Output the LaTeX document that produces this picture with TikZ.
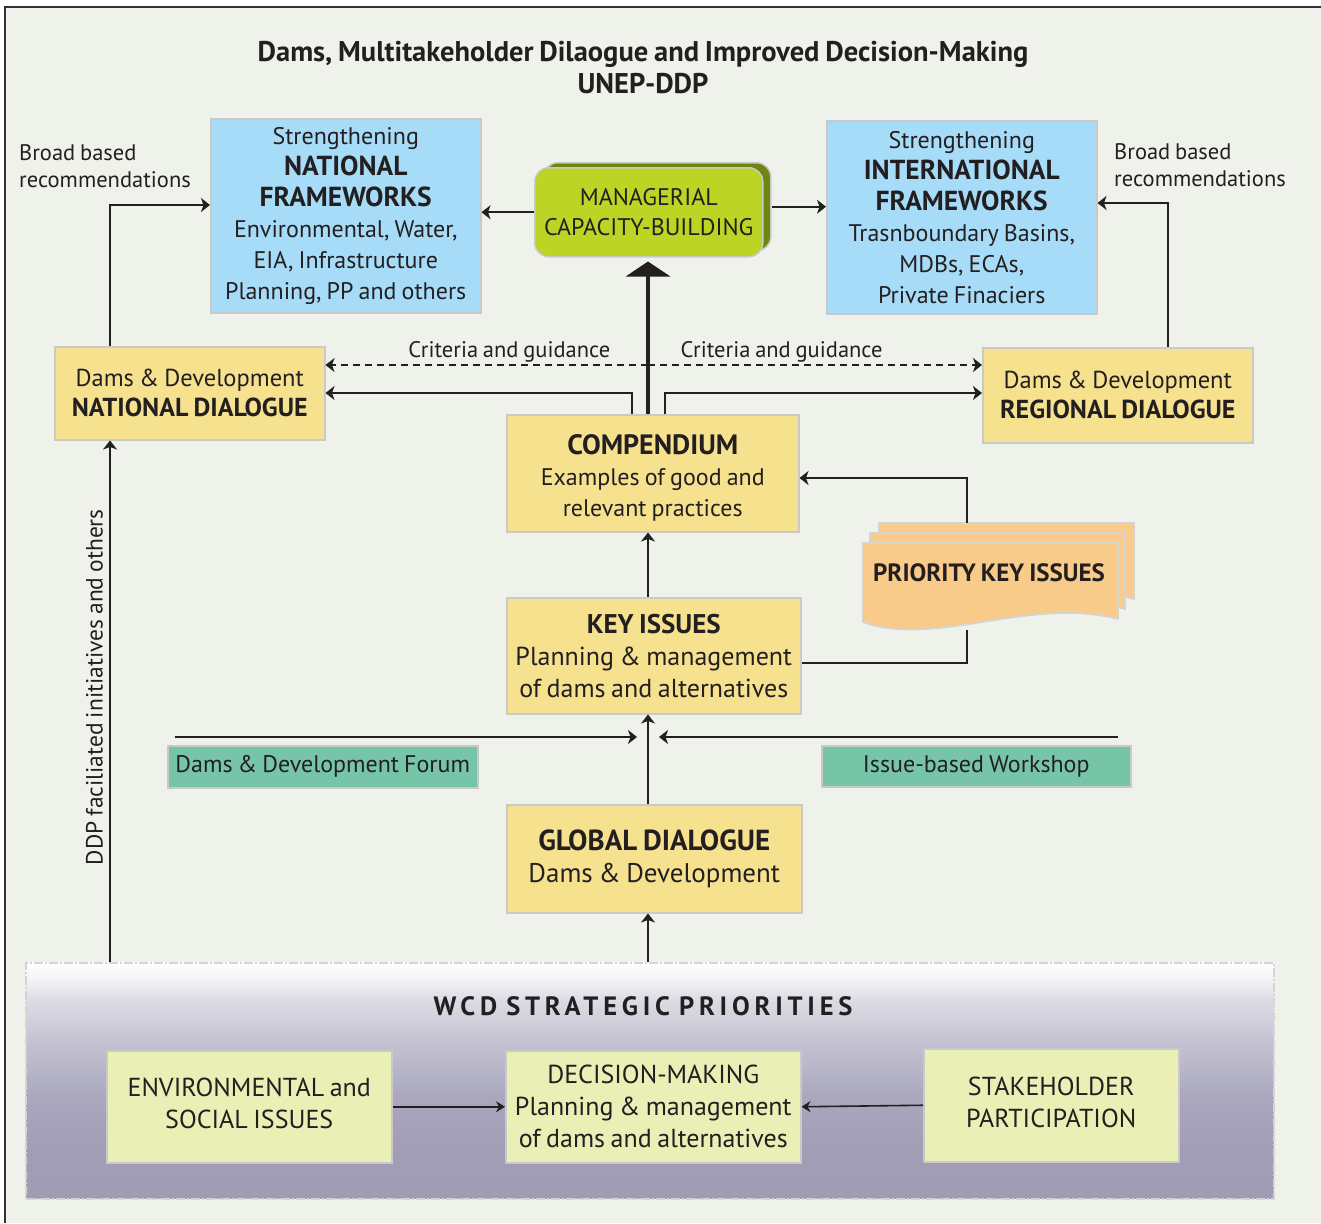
\documentclass[tikz,border=0pt]{standalone}
\usepackage{fontspec}
\setmainfont{PT Sans}[WordSpace=0.8]
\usetikzlibrary{arrows.meta,calc,positioning}
\definecolor{bg}{HTML}{EFF2EA}
\definecolor{ink}{HTML}{231F20}
\definecolor{frameline}{HTML}{333333}
\definecolor{boxgray}{HTML}{C9C9C9}
\definecolor{blu}{HTML}{A7DCF8}
\definecolor{yel}{HTML}{F6E18F}
\definecolor{grn}{HTML}{BCD424}
\definecolor{olive}{HTML}{6F8512}
\definecolor{org}{HTML}{F9CB8A}
\definecolor{teal}{HTML}{77C5A8}
\definecolor{pale}{HTML}{EAEFB6}
\definecolor{wbot}{HTML}{9F9CB3}
\definecolor{wb2}{HTML}{A09DB4}
\definecolor{wb3}{HTML}{A9A6BD}
\definecolor{wb4}{HTML}{C5C3D2}
\definecolor{wb5}{HTML}{DCDBE4}
\definecolor{wb6}{HTML}{F5F5F8}
\pgfdeclareverticalshading{wcdshade}{100bp}{color(0bp)=(wbot); color(25bp)=(wbot);
  color(35bp)=(wb2); color(46bp)=(wb3); color(58.5bp)=(wb4); color(67bp)=(wb5);
  color(72bp)=(wb6); color(75bp)=(white); color(100bp)=(white)}
\newcommand{\BF}[2]{{\fontsize{#1}{31}\selectfont\bfseries #2}}
\tikzset{
  base/.style={draw=boxgray, line width=1.5pt, inner sep=0pt, align=center, text=ink,
    font=\fontsize{24}{31}\selectfont, anchor=north west},
  bluebox/.style={base, fill=blu},
  yelbox/.style={base, fill=yel},
  tealbox/.style={base, fill=teal, font=\fontsize{24}{28}\selectfont},
  palebox/.style={base, fill=pale, font=\fontsize{26}{32}\selectfont},
  lbl/.style={text=ink, inner sep=0pt, font=\fontsize{22.5}{27}\selectfont},
  conn/.style={draw=ink, line width=2pt},
  arr/.style={conn, -{Stealth[length=9pt,width=14pt,inset=2.5pt]}},
  arrthin/.style={draw=ink, line width=1.6pt, -{Stealth[length=9pt,width=11pt,inset=3pt]}},
  bigarr/.style={draw=ink, line width=4.5pt, -{Triangle[length=15pt,width=44pt]}},
}
\begin{document}
\begin{tikzpicture}[x=1pt,y=-1pt]
\useasboundingbox (0,0) rectangle (1321,1223);
\fill[white] (0,0) rectangle (1321,1223);
\fill[bg] (5,7) rectangle (1321,1223);
\draw[frameline, line width=2pt] (5,1223) -- (5,7) -- (1321,7);

% title
\node[text=ink, align=center, font=\fontsize{28.5}{32}\selectfont\bfseries] (title) at (643,68)
  {Dams, Multitakeholder Dilaogue and Improved Decision-Making\\UNEP-DDP};

% top row
\node[bluebox, minimum width=270, minimum height=194] (nf) at (210,118)
  {Strengthening\\\BF{27.5}{NATIONAL}\\\BF{27.5}{FRAMEWORKS}\\Environmental, Water,\\EIA, Infrastructure\\Planning, PP and others};
\node[bluebox, minimum width=270, minimum height=193] (if) at (826,120)
  {Strengthening\\\BF{27.5}{INTERNATIONAL}\\\BF{27.5}{FRAMEWORKS}\\Trasnboundary Basins,\\MDBs, ECAs,\\Private Finaciers};
\node[base, fill=olive, rounded corners=14pt, minimum width=227, minimum height=88] (mansh) at (543,162) {};
\node[base, fill=grn, rounded corners=14pt, minimum width=228, minimum height=89,
  font=\fontsize{24}{30}\selectfont] (man) at (534,167) {MANAGERIAL\\CAPACITY-BUILDING};

\node[lbl, anchor=north west, align=left] (bbl) at (19,144) {Broad based\\recommendations};
\node[lbl, anchor=north west, align=left] (bbr) at (1114,143) {Broad based\\recommendations};

% dialogues
\node[yelbox, minimum width=270, minimum height=93, font=\fontsize{24.5}{30}\selectfont] (nd) at (54,346)
  {Dams \& Development\\\BF{26}{NATIONAL DIALOGUE}};
\node[yelbox, minimum width=270, minimum height=95, font=\fontsize{24.5}{30}\selectfont] (rd) at (982,347)
  {Dams \& Development\\\BF{26}{REGIONAL DIALOGUE}};
\node[yelbox, minimum width=292, minimum height=117] (comp) at (506,414)
  {\rule{0pt}{30pt}\BF{28}{COMPENDIUM}\\Examples of good and\\relevant practices};
\node[yelbox, minimum width=294, minimum height=116, font=\fontsize{26}{32}\selectfont] (ki) at (506,597)
  {\BF{27}{KEY ISSUES}\\Planning \& management\\of dams and alternatives};
\node[yelbox, minimum width=295, minimum height=108, font=\fontsize{27}{32}\selectfont] (gd) at (506,804)
  {\BF{29}{GLOBAL DIALOGUE}\\Dams \& Development};

\node[tealbox, minimum width=310, minimum height=42] (forum) at (167,745) {Dams \& Development Forum};
\node[tealbox, minimum width=309, minimum height=41] (work) at (821,745) {Issue-based Workshop};

% priority key issues (stacked document shape)
\foreach \dx/\dy in {16/-20, 7/-10, 0/0} {
  \draw[draw=boxgray!80, line width=1.8pt, fill=org, shift={(\dx,\dy)}]
    (863,543) -- (1118,543) -- (1118,619)
    .. controls (1030,596) and (935,648) .. (863,622) -- cycle;
}
\node[text=ink, font=\fontsize{25}{28}\selectfont\bfseries, inner sep=0pt] (pki) at (989,573) {PRIORITY KEY ISSUES};
\coordinate (pkTop) at (967,523);
\coordinate (pkBot) at (967,630);

% WCD box
\node[base, draw=boxgray!80, line width=1.5pt, dash pattern=on 9pt off 2pt on 2pt off 2pt,
  shade, shading=wcdshade,
  minimum width=1248, minimum height=236] (wcd) at (25,962) {};
\node[text=ink, inner sep=0pt, font=\fontsize{26.5}{28}\selectfont\bfseries\addfontfeatures{LetterSpace=18}] (wcdt) at (643,1006) {WCD STRATEGIC PRIORITIES};
\node[palebox, minimum width=285, minimum height=112] (env) at (106,1050)
  {ENVIRONMENTAL and\\SOCIAL ISSUES\rule[-8pt]{0pt}{0pt}};
\node[palebox, minimum width=295, minimum height=112] (dm) at (505,1050)
  {DECISION-MAKING\\Planning \& management\\of dams and alternatives};
\node[palebox, minimum width=255, minimum height=113] (sp) at (923,1048)
  {STAKEHOLDER\\PARTICIPATION\rule[-7pt]{0pt}{0pt}};

% connectors
\coordinate (cx) at (648,0);
\draw[arr] (man.west) -- (man.west -| nf.east);
\draw[arr] (mansh.east) -- (mansh.east -| if.west);
\draw[bigarr] (cx |- comp.north) -- ($(cx |- man.south)+(0,4)$);

\coordinate (bL) at (110,205);
\draw[arr] (bL |- nd.north) -- (bL) -- (bL -| nf.west);
\coordinate (bR) at (1168,203);
\draw[arr] (bR |- rd.north) -- (bR) -- (bR -| if.east);

\coordinate (dsh) at (648,365);
\draw[arr, dash pattern=on 7pt off 5pt] (dsh) -- (dsh -| nd.east)
  node[lbl, pos=0.43, above=2pt] (cg1) {Criteria and guidance};
\draw[arr, dash pattern=on 7pt off 5pt] (dsh) -- (dsh -| rd.west)
  node[lbl, pos=0.40, above=2pt] (cg2) {Criteria and guidance};

\coordinate (sL) at (632,393);
\draw[arr] (sL |- comp.north) -- (sL) -- (sL -| nd.east);
\coordinate (sR) at (665,393);
\draw[arr] (sR |- comp.north) -- (sR) -- (sR -| rd.west);

\coordinate (pt) at (967,478);
\draw[arr] (pkTop) -- (pt) -- (pt -| comp.east);
\coordinate (pb) at (967,663);
\draw[conn] (pkBot) -- (pb) -- (pb -| ki.east);

\draw[arr] (cx |- ki.north) -- (cx |- comp.south);
\draw[arr] (cx |- gd.north) -- (cx |- ki.south);
\coordinate (hL) at (175,737);
\coordinate (hLe) at (637,737);
\coordinate (hR) at (1118,737);
\coordinate (hRe) at (659,737);
\draw[arr] (hL) -- (hLe);
\draw[arr] (hR) -- (hRe);
\draw[arr] (cx |- wcd.north) -- (cx |- gd.south);

\draw[arr] (bL |- wcd.north) -- (bL |- nd.south)
  node[lbl, font=\fontsize{23.5}{27}\selectfont, pos=0.527, sloped, above=6pt] (ddp) {DDP faciliated initiatives and others};

\draw[arrthin] (env.east) -- (dm.west);
\draw[arrthin] (sp.west) -- (dm.east);
\end{tikzpicture}
\end{document}
